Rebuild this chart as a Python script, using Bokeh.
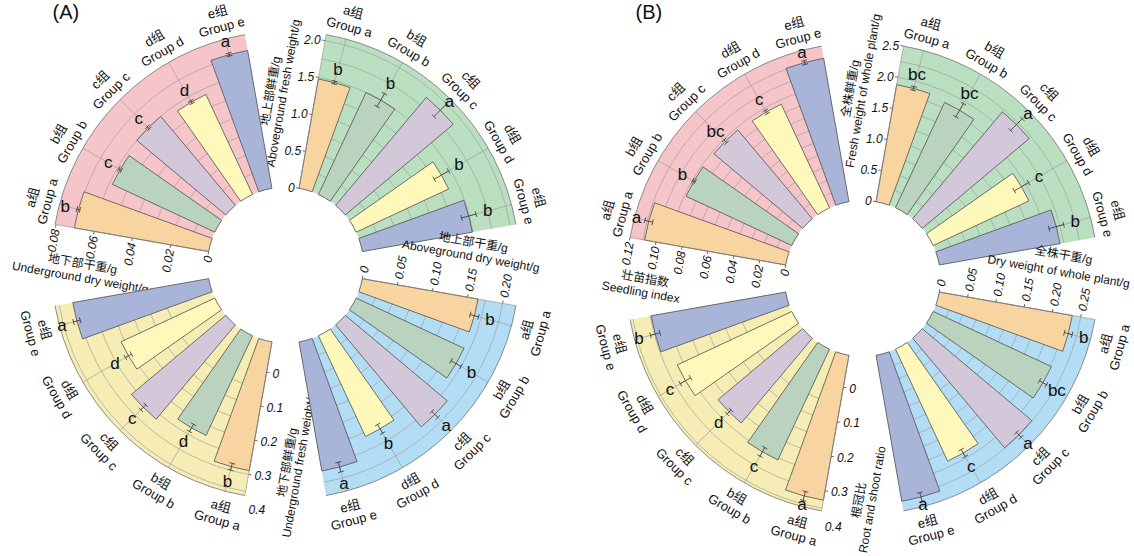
import numpy as np
from bokeh.plotting import figure
from bokeh.core.properties import value
from bokeh.embed import file_html
from bokeh.resources import INLINE

W, H = 1134, 556
FONT = "Liberation Sans, Noto Sans CJK SC"

groups = ["a", "b", "c", "d", "e"]
group_en = ["Group " + g for g in groups]
group_cn = [g + "组" for g in groups]
bar_colors = ["#F8D4A0", "#B9D3BE", "#D3C8DA", "#FEF8BA", "#A8B4D8"]

PINK, GREEN, BLUE, YELLOW = "#F5C5CA", "#BBDFC1", "#B3DDF4", "#F5EDB4"

# ---------- panel A ----------
a_fresh_above = [1.48, 1.50, 1.88, 1.36, 1.49]
a_fresh_above_sd = [0.02, 0.10, 0.12, 0.11, 0.10]
a_fresh_above_sig = ["b", "b", "a", "b", "b"]

a_dry_under = [0.0704, 0.0583, 0.0599, 0.0569, 0.0722]
a_dry_under_sd = [0.0008, 0.0008, 0.0008, 0.0008, 0.0008]
a_dry_under_sig = ["b", "c", "c", "d", "a"]

a_fresh_under = [0.289, 0.229, 0.267, 0.210, 0.310]
a_fresh_under_sd = [0.010, 0.012, 0.010, 0.010, 0.010]
a_fresh_under_sig = ["b", "d", "c", "d", "a"]

a_dry_above = [0.165, 0.167, 0.187, 0.156, 0.184]
a_dry_above_sd = [0.006, 0.008, 0.006, 0.007, 0.007]
a_dry_above_sig = ["b", "b", "a", "b", "a"]

# ---------- panel B ----------
b_fresh_whole = [1.88, 1.84, 2.21, 1.67, 1.94]
b_fresh_whole_sd = [0.03, 0.12, 0.13, 0.13, 0.12]
b_fresh_whole_sig = ["bc", "bc", "a", "c", "b"]

b_seedling = [0.1088, 0.0886, 0.0881, 0.0868, 0.1106]
b_seedling_sd = [0.003, 0.001, 0.0015, 0.0015, 0.0015]
b_seedling_sig = ["a", "b", "bc", "c", "a"]

b_root_shoot = [0.327, 0.256, 0.223, 0.268, 0.297]
b_root_shoot_sd = [0.013, 0.014, 0.008, 0.017, 0.014]
b_root_shoot_sig = ["a", "c", "d", "c", "b"]

b_dry_whole = [0.235, 0.227, 0.249, 0.215, 0.258]
b_dry_whole_sd = [0.007, 0.007, 0.006, 0.007, 0.008]
b_dry_whole_sig = ["b", "bc", "a", "c", "a"]

panels = [
    dict(label="(A)", label_x=52, cx=285, cy=H - 264.6, r_in=78, r_out=234, sectors=[
        dict(theta=80, bg=GREEN, vals=a_fresh_above, sd=a_fresh_above_sd, sig=a_fresh_above_sig,
             vmin=0, vmax=2.08, ticks=[0, 0.5, 1.0, 1.5, 2.0], tick_text=["0", "0.5", "1.0", "1.5", "2.0"],
             tick_rot=0, tick_align="right", title=("地上部鲜重/g", "Aboveground fresh weight/g"),
             title_s=(169, 169), title_p=(45, 32), title_rot=80),
        dict(theta=170, bg=PINK, vals=a_dry_under, sd=a_dry_under_sd, sig=a_dry_under_sig,
             vmin=0, vmax=0.0805, ticks=[0, 0.02, 0.04, 0.06, 0.08], tick_text=["0", "0.02", "0.04", "0.06", "0.08"],
             tick_rot=80, tick_align="right", title=("地下部干重/g", "Underground dry weight/g"),
             title_s=(200, 200), title_p=(34, 48), title_rot=-10),
        dict(theta=260, bg=YELLOW, vals=a_fresh_under, sd=a_fresh_under_sd, sig=a_fresh_under_sig,
             vmin=-0.0887, vmax=0.362, ticks=[0, 0.1, 0.2, 0.3, 0.4], tick_text=["0", "0.1", "0.2", "0.3", "0.4"],
             tick_rot=0, tick_align="left", title=("地下部鲜重/g", "Underground fresh weight/g"),
             title_s=(194, 194), title_p=(36, 48), title_rot=80),
        dict(theta=350, bg=BLUE, vals=a_dry_above, sd=a_dry_above_sd, sig=a_dry_above_sig,
             vmin=0, vmax=0.219, ticks=[0, 0.05, 0.10, 0.15, 0.20], tick_text=["0", "0.05", "0.10", "0.15", "0.20"],
             tick_rot=80, tick_align="left", title=("地上部干重/g", "Aboveground dry weight/g"),
             title_s=(181, 181), title_p=(55, 41), title_rot=-10),
    ]),
    dict(label="(B)", label_x=635, cx=862, cy=H - 278, r_in=78, r_out=236, sectors=[
        dict(theta=80, bg=GREEN, vals=b_fresh_whole, sd=b_fresh_whole_sd, sig=b_fresh_whole_sig,
             vmin=0, vmax=2.5, ticks=[0, 0.5, 1.0, 1.5, 2.0, 2.5], tick_text=["0", "0.5", "1.0", "1.5", "2.0", "2.5"],
             tick_rot=0, tick_align="right", title=("全株鲜重/g", "Fresh weight of whole plant/g"),
             title_s=(185, 185), title_p=(45, 32), title_rot=80),
        dict(theta=170, bg=PINK, vals=b_seedling, sd=b_seedling_sd, sig=b_seedling_sig,
             vmin=0, vmax=0.12, ticks=[0, 0.02, 0.04, 0.06, 0.08, 0.10, 0.12],
             tick_text=["0", "0.02", "0.04", "0.06", "0.08", "0.10", "0.12"],
             tick_rot=80, tick_align="right", title=("壮苗指数", "Seedling index"),
             title_s=(214, 216), title_p=(38, 52), title_rot=-10),
        dict(theta=260, bg=YELLOW, vals=b_root_shoot, sd=b_root_shoot_sd, sig=b_root_shoot_sig,
             vmin=-0.0923, vmax=0.358, ticks=[0, 0.1, 0.2, 0.3, 0.4], tick_text=["0", "0.1", "0.2", "0.3", "0.4"],
             tick_rot=0, tick_align="left", title=("根冠比", "Root and shoot ratio"),
             title_s=(219, 216), title_p=(35, 48), title_rot=80),
        dict(theta=350, bg=BLUE, vals=b_dry_whole, sd=b_dry_whole_sd, sig=b_dry_whole_sig,
             vmin=0, vmax=0.275, ticks=[0, 0.05, 0.10, 0.15, 0.20, 0.25],
             tick_text=["0", "0.05", "0.10", "0.15", "0.20", "0.25"],
             tick_rot=80, tick_align="left", title=("全株干重/g", "Dry weight of whole plant/g"),
             title_s=(194, 192), title_p=(58, 41), title_rot=-10),
    ]),
]

p = figure(width=W, height=H, x_range=(0, W), y_range=(0, H), toolbar_location=None,
           output_backend="svg", min_border=0, x_axis_location=None, y_axis_location=None,
           outline_line_color=None, background_fill_color="white", border_fill_color="white")
p.grid.visible = False


def pol(cx, cy, r, deg):
    a = np.radians(deg)
    return cx + r * np.cos(a), cy + r * np.sin(a)


def txt(xs, ys, texts, angles, size, align="center", style="normal"):
    p.text(x=list(xs), y=list(ys), text=list(texts), angle=[np.radians(a) for a in angles],
           text_align=align, text_baseline="middle", text_font=value(FONT),
           text_font_size=size, text_font_style=style, text_color="#111111")


for pan in panels:
    cx, cy, r_in, r_out = pan["cx"], pan["cy"], pan["r_in"], pan["r_out"]
    for sec in pan["sectors"]:
        te = sec["theta"]
        centers = [te - 5 - 15 * i for i in range(5)]
        k = (r_out - r_in) / (sec["vmax"] - sec["vmin"])

        def rad(v):
            return r_in + (v - sec["vmin"]) * k

        # background sector
        p.annular_wedge(x=cx, y=cy, inner_radius=r_in, outer_radius=r_out,
                        start_angle=np.radians(te - 70), end_angle=np.radians(te),
                        fill_color=sec["bg"], line_color=None)

        # grid arcs (major + minor)
        ticks = sec["ticks"]
        step = ticks[1] - ticks[0]
        gvals = [ticks[0] + step / 2 * j for j in range(1, 2 * (len(ticks) - 1) + 1)]
        radii = [rad(v) for v in gvals if r_in + 1 < rad(v) < r_out - 1]
        p.arc(x=[cx] * len(radii), y=[cy] * len(radii), radius=radii,
              start_angle=np.radians(te - 70), end_angle=np.radians(te),
              line_color="#a2a2a2", line_width=0.7)

        # radial grid at bar centres
        x0, y0 = zip(*[pol(cx, cy, r_in, c) for c in centers])
        x1, y1 = zip(*[pol(cx, cy, r_out, c) for c in centers])
        p.segment(x0=list(x0), y0=list(y0), x1=list(x1), y1=list(y1), line_color="#9c9c9c", line_width=0.7)

        # outer rim
        p.arc(x=cx, y=cy, radius=r_out, start_angle=np.radians(te - 70), end_angle=np.radians(te),
              line_color="#707070", line_width=0.8)

        # bars
        p.annular_wedge(x=cx, y=cy, inner_radius=r_in, outer_radius=[rad(v) for v in sec["vals"]],
                        start_angle=[np.radians(c - 5) for c in centers],
                        end_angle=[np.radians(c + 5) for c in centers],
                        fill_color=bar_colors, line_color="#505050", line_width=0.8)

        # error bars
        ex0, ey0, ex1, ey1 = [], [], [], []
        for c, v, e in zip(centers, sec["vals"], sec["sd"]):
            lo, hi = rad(v - e), rad(v + e)
            xa, ya = pol(cx, cy, lo, c)
            xb, yb = pol(cx, cy, hi, c)
            ex0.append(xa); ey0.append(ya); ex1.append(xb); ey1.append(yb)
            tx, ty = -np.sin(np.radians(c)), np.cos(np.radians(c))
            for (xm, ym) in ((xa, ya), (xb, yb)):
                ex0.append(xm - 3 * tx); ey0.append(ym - 3 * ty)
                ex1.append(xm + 3 * tx); ey1.append(ym + 3 * ty)
        p.segment(x0=ex0, y0=ey0, x1=ex1, y1=ey1, line_color="#333333", line_width=0.8)

        # significance letters
        lx, ly = zip(*[pol(cx, cy, min(rad(v + e) + 12, r_out - 2), c)
                       for c, v, e in zip(centers, sec["vals"], sec["sd"])])
        txt(lx, ly, sec["sig"], [0] * 5, "17px")

        # group labels
        en_x, en_y, cn_x, cn_y, rots = [], [], [], [], []
        for c in centers:
            if 0 < (c % 360) < 180:
                r_en, r_cn, rot = r_out + 12.5, r_out + 28, c - 90
            else:
                r_en, r_cn, rot = r_out + 30, r_out + 15.5, c + 90
            xe, ye = pol(cx, cy, r_en, c)
            xc, yc = pol(cx, cy, r_cn, c)
            en_x.append(xe); en_y.append(ye); cn_x.append(xc); cn_y.append(yc); rots.append(rot)
        txt(en_x, en_y, group_en, rots, "13px")
        txt(cn_x, cn_y, group_cn, rots, "13px")

        # value axis on the leading edge
        ux, uy = np.cos(np.radians(te)), np.sin(np.radians(te))
        nx, ny = -uy, ux
        tx0, ty0, tx1, ty1, lxs, lys, labs = [], [], [], [], [], [], []
        pad = 6 if sec["tick_align"] == "left" else 4.5
        for t, lab in zip(ticks, sec["tick_text"]):
            rt = rad(t)
            bx, by = cx + rt * ux, cy + rt * uy
            if rt <= r_out + 0.5:
                tx0.append(bx); ty0.append(by); tx1.append(bx + 3 * nx); ty1.append(by + 3 * ny)
            lxs.append(bx + pad * nx); lys.append(by + pad * ny); labs.append(lab)
        p.segment(x0=tx0, y0=ty0, x1=tx1, y1=ty1, line_color="#444444", line_width=0.8)
        p.segment(x0=cx + r_in * ux, y0=cy + r_in * uy, x1=cx + r_out * ux, y1=cy + r_out * uy,
                  line_color="#8a8a8a", line_width=0.6)
        txt(lxs, lys, labs, [sec["tick_rot"]] * len(labs), "12px", align=sec["tick_align"], style="italic")

        # axis title (two lines)
        tl_x = [cx + s * ux + pp * nx for s, pp in zip(sec["title_s"], sec["title_p"])]
        tl_y = [cy + s * uy + pp * ny for s, pp in zip(sec["title_s"], sec["title_p"])]
        txt(tl_x, tl_y, list(sec["title"]), [sec["title_rot"]] * 2, "12px")

    p.text(x=[pan["label_x"]], y=[H - 11], text=[pan["label"]], text_align="left", text_baseline="middle",
           text_font=value("Liberation Sans"), text_font_size="20px", text_color="#111111")

open("out.html", "w").write(file_html(p, INLINE))
